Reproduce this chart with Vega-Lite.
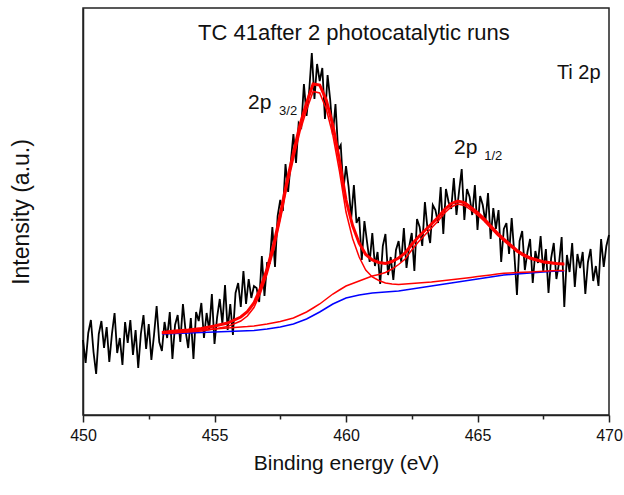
{
  "$schema": "https://vega.github.io/schema/vega-lite/v6.json",
  "width": 526,
  "height": 407,
  "autosize": {"type": "none"},
  "padding": {"left": 83, "top": 8, "right": 15, "bottom": 80},
  "background": "white",
  "config": {
    "view": {"stroke": "#222", "strokeWidth": 1.5},
    "font": "Liberation Sans",
    "axis": {"labelFont": "Liberation Sans", "titleFont": "Liberation Sans", "titleFontWeight": "normal", "domainColor": "#222", "domainWidth": 1.5, "tickColor": "#222", "tickWidth": 1.5, "grid": false}
  },
  "datasets": {
    "spectrum": [
      {"e":450.0,"i":75},{"e":450.1,"i":52},{"e":450.2,"i":82},{"e":450.3,"i":95},{"e":450.4,"i":63},{"e":450.5,"i":41},{"e":450.6,"i":81},{"e":450.7,"i":94},{"e":450.8,"i":67},{"e":450.9,"i":88},
      {"e":451.0,"i":53},{"e":451.1,"i":81},{"e":451.2,"i":102},{"e":451.3,"i":62},{"e":451.4,"i":77},{"e":451.5,"i":50},{"e":451.6,"i":93},{"e":451.7,"i":72},{"e":451.8,"i":95},{"e":451.9,"i":60},
      {"e":452.0,"i":85},{"e":452.1,"i":47},{"e":452.2,"i":81},{"e":452.3,"i":100},{"e":452.4,"i":66},{"e":452.5,"i":91},{"e":452.6,"i":55},{"e":452.7,"i":80},{"e":452.8,"i":109},{"e":452.9,"i":73},
      {"e":453.0,"i":64},{"e":453.1,"i":93},{"e":453.2,"i":77},{"e":453.3,"i":103},{"e":453.4,"i":56},{"e":453.5,"i":90},{"e":453.6,"i":100},{"e":453.7,"i":73},{"e":453.8,"i":111},{"e":453.9,"i":84},
      {"e":454.0,"i":67},{"e":454.1,"i":97},{"e":454.2,"i":56},{"e":454.3,"i":103},{"e":454.4,"i":94},{"e":454.5,"i":112},{"e":454.6,"i":77},{"e":454.7,"i":102},{"e":454.8,"i":85},{"e":454.9,"i":121},
      {"e":455.0,"i":71},{"e":455.1,"i":98},{"e":455.2,"i":116},{"e":455.3,"i":91},{"e":455.4,"i":130},{"e":455.5,"i":85},{"e":455.6,"i":111},{"e":455.7,"i":80},{"e":455.8,"i":122},{"e":455.9,"i":132},
      {"e":456.0,"i":108},{"e":456.1,"i":144},{"e":456.2,"i":111},{"e":456.3,"i":136},{"e":456.4,"i":117},{"e":456.5,"i":129},{"e":456.6,"i":127},{"e":456.7,"i":113},{"e":456.8,"i":159},{"e":456.9,"i":119},
      {"e":457.0,"i":152},{"e":457.1,"i":152},{"e":457.2,"i":188},{"e":457.3,"i":148},{"e":457.4,"i":199},{"e":457.5,"i":215},{"e":457.6,"i":204},{"e":457.7,"i":251},{"e":457.8,"i":223},{"e":457.9,"i":253},
      {"e":458.0,"i":281},{"e":458.1,"i":252},{"e":458.2,"i":292},{"e":458.3,"i":288},{"e":458.4,"i":331},{"e":458.5,"i":299},{"e":458.6,"i":324},{"e":458.7,"i":362},{"e":458.8,"i":316},{"e":458.9,"i":351},
      {"e":459.0,"i":334},{"e":459.1,"i":347},{"e":459.2,"i":296},{"e":459.3,"i":340},{"e":459.4,"i":315},{"e":459.5,"i":280},{"e":459.6,"i":311},{"e":459.7,"i":265},{"e":459.8,"i":270},{"e":459.9,"i":225},
      {"e":460.0,"i":249},{"e":460.1,"i":228},{"e":460.2,"i":197},{"e":460.3,"i":230},{"e":460.4,"i":192},{"e":460.5,"i":198},{"e":460.6,"i":155},{"e":460.7,"i":194},{"e":460.8,"i":173},{"e":460.9,"i":153},
      {"e":461.0,"i":182},{"e":461.1,"i":149},{"e":461.2,"i":163},{"e":461.3,"i":131},{"e":461.4,"i":169},{"e":461.5,"i":181},{"e":461.6,"i":140},{"e":461.7,"i":158},{"e":461.8,"i":135},{"e":461.9,"i":165},
      {"e":462.0,"i":174},{"e":462.1,"i":153},{"e":462.2,"i":187},{"e":462.3,"i":147},{"e":462.4,"i":168},{"e":462.5,"i":182},{"e":462.6,"i":144},{"e":462.7,"i":196},{"e":462.8,"i":188},{"e":462.9,"i":169},
      {"e":463.0,"i":213},{"e":463.1,"i":186},{"e":463.2,"i":172},{"e":463.3,"i":210},{"e":463.4,"i":205},{"e":463.5,"i":192},{"e":463.6,"i":228},{"e":463.7,"i":181},{"e":463.8,"i":226},{"e":463.9,"i":213},
      {"e":464.0,"i":206},{"e":464.1,"i":237},{"e":464.2,"i":200},{"e":464.3,"i":224},{"e":464.4,"i":246},{"e":464.5,"i":195},{"e":464.6,"i":226},{"e":464.7,"i":218},{"e":464.8,"i":200},{"e":464.9,"i":230},
      {"e":465.0,"i":185},{"e":465.1,"i":219},{"e":465.2,"i":210},{"e":465.3,"i":193},{"e":465.4,"i":222},{"e":465.5,"i":176},{"e":465.6,"i":207},{"e":465.7,"i":186},{"e":465.8,"i":205},{"e":465.9,"i":153},
      {"e":466.0,"i":186},{"e":466.1,"i":192},{"e":466.2,"i":161},{"e":466.3,"i":197},{"e":466.4,"i":161},{"e":466.5,"i":120},{"e":466.6,"i":174},{"e":466.7,"i":184},{"e":466.8,"i":145},{"e":466.9,"i":163},
      {"e":467.0,"i":176},{"e":467.1,"i":132},{"e":467.2,"i":164},{"e":467.3,"i":152},{"e":467.4,"i":179},{"e":467.5,"i":143},{"e":467.6,"i":166},{"e":467.7,"i":122},{"e":467.8,"i":157},{"e":467.9,"i":172},
      {"e":468.0,"i":136},{"e":468.1,"i":152},{"e":468.2,"i":178},{"e":468.3,"i":108},{"e":468.4,"i":160},{"e":468.5,"i":143},{"e":468.6,"i":172},{"e":468.7,"i":128},{"e":468.8,"i":161},{"e":468.9,"i":147},
      {"e":469.0,"i":163},{"e":469.1,"i":121},{"e":469.2,"i":153},{"e":469.3,"i":166},{"e":469.4,"i":134},{"e":469.5,"i":149},{"e":469.6,"i":129},{"e":469.7,"i":176},{"e":469.8,"i":148},{"e":469.9,"i":169},
      {"e":470.0,"i":180}
    ],
    "fits": [
      {"e":453.0,"bg":81,"p1":81.5,"p2":82,"env":82.5},
      {"e":453.5,"bg":81.5,"p1":82,"p2":83,"env":84},
      {"e":454.0,"bg":82,"p1":83,"p2":84,"env":85},
      {"e":454.5,"bg":82.5,"p1":84,"p2":85,"env":86.5},
      {"e":455.0,"bg":83,"p1":86,"p2":86,"env":89},
      {"e":455.5,"bg":83.5,"p1":88.5,"p2":87,"env":92},
      {"e":456.0,"bg":84,"p1":94,"p2":88,"env":98},
      {"e":456.25,"bg":84.2,"p1":99,"p2":88.4,"env":103.4},
      {"e":456.5,"bg":84.5,"p1":107.5,"p2":89,"env":112},
      {"e":456.75,"bg":85.2,"p1":122,"p2":90,"env":127},
      {"e":457.0,"bg":86,"p1":141,"p2":91,"env":146},
      {"e":457.25,"bg":87,"p1":165,"p2":92.3,"env":170.3},
      {"e":457.5,"bg":88,"p1":195,"p2":93.5,"env":200.5},
      {"e":457.75,"bg":89.5,"p1":227.5,"p2":95.3,"env":233.3},
      {"e":458.0,"bg":91,"p1":256,"p2":97,"env":262},
      {"e":458.25,"bg":93.5,"p1":283.5,"p2":100,"env":290},
      {"e":458.5,"bg":96,"p1":305,"p2":103,"env":312},
      {"e":458.75,"bg":99.5,"p1":323.5,"p2":107,"env":331},
      {"e":459.0,"bg":103,"p1":322,"p2":111,"env":330},
      {"e":459.25,"bg":107,"p1":306,"p2":116,"env":315},
      {"e":459.5,"bg":111,"p1":280,"p2":121,"env":290},
      {"e":459.75,"bg":114,"p1":244,"p2":125,"env":255},
      {"e":460.0,"bg":117,"p1":203,"p2":129,"env":215},
      {"e":460.25,"bg":118.5,"p1":176.5,"p2":131.5,"env":189.5},
      {"e":460.5,"bg":120,"p1":158,"p2":134,"env":172},
      {"e":460.75,"bg":121,"p1":145,"p2":136.5,"env":160.5},
      {"e":461.0,"bg":122,"p1":138,"p2":139,"env":155},
      {"e":461.25,"bg":122.5,"p1":134.5,"p2":140.5,"env":152.5},
      {"e":461.5,"bg":123,"p1":132,"p2":142.5,"env":151.5},
      {"e":461.75,"bg":123.5,"p1":131,"p2":146,"env":153.5},
      {"e":462.0,"bg":124,"p1":130.5,"p2":150.5,"env":157},
      {"e":462.25,"bg":125,"p1":131,"p2":156,"env":162},
      {"e":462.5,"bg":126,"p1":131.5,"p2":165,"env":170.5},
      {"e":462.75,"bg":127,"p1":132,"p2":173,"env":178},
      {"e":463.0,"bg":128,"p1":132.5,"p2":180,"env":184.5},
      {"e":463.25,"bg":129,"p1":133,"p2":187,"env":191},
      {"e":463.5,"bg":130,"p1":133.8,"p2":194,"env":197.8},
      {"e":463.75,"bg":131,"p1":134.5,"p2":202,"env":205.5},
      {"e":464.0,"bg":132,"p1":135.3,"p2":208,"env":211.3},
      {"e":464.25,"bg":133,"p1":136,"p2":211,"env":214},
      {"e":464.5,"bg":134,"p1":136.8,"p2":209.5,"env":212.3},
      {"e":464.75,"bg":135,"p1":137.6,"p2":205,"env":207.6},
      {"e":465.0,"bg":136,"p1":138.4,"p2":200,"env":202.4},
      {"e":465.25,"bg":137,"p1":139.2,"p2":194,"env":196.2},
      {"e":465.5,"bg":138,"p1":140,"p2":187,"env":189},
      {"e":465.75,"bg":139,"p1":140.9,"p2":180,"env":181.9},
      {"e":466.0,"bg":140,"p1":141.8,"p2":174,"env":175.8},
      {"e":466.25,"bg":140.5,"p1":142.1,"p2":168.5,"env":170.1},
      {"e":466.5,"bg":141,"p1":142.5,"p2":163,"env":164.5},
      {"e":466.75,"bg":141.5,"p1":142.8,"p2":159,"env":160.3},
      {"e":467.0,"bg":142,"p1":143.1,"p2":156,"env":157.1},
      {"e":467.5,"bg":143,"p1":143.8,"p2":152.5,"env":153.3},
      {"e":468.0,"bg":144,"p1":144.5,"p2":151,"env":151.5},
      {"e":468.3,"bg":144,"p1":144.4,"p2":150.5,"env":150.9}
    ],
    "mainTitle": [
      {"e":460.3,"i":382,"t":"TC 41after 2 photocatalytic runs"}
    ],
    "titleText": [
      {"e":468.85,"i":342,"t":"Ti 2p"}
    ],
    "bigText": [
      {"e":456.72,"i":312,"t":"2p"},
      {"e":464.55,"i":267,"t":"2p"}
    ],
    "smallText": [
      {"e":457.8,"i":304,"t":"3/2"},
      {"e":465.6,"i":259,"t":"1/2"}
    ]
  },
  "layer": [
    {
      "data": {"name": "spectrum"},
      "mark": {"type": "line", "color": "black", "strokeWidth": 1.8},
      "encoding": {
        "x": {"field": "e", "type": "quantitative", "scale": {"domain": [450, 470], "nice": false},
          "axis": {"values": [450, 452.5, 455, 457.5, 460, 462.5, 465, 467.5, 470], "labelExpr": "datum.value % 5 === 0 ? datum.label : ''", "tickSize": {"condition": {"test": "datum.value % 5 === 0", "value": 7}, "value": 4}, "labelFlush": false, "labelOverlap": false, "labelFontSize": 16, "labelPadding": 5, "labelColor": "#111", "title": "Binding energy (eV)", "titleFontSize": 21, "titlePadding": 9, "titleColor": "#111"}},
        "y": {"field": "i", "type": "quantitative", "scale": {"domain": [0, 407], "nice": false, "zero": false},
          "axis": {"labels": false, "ticks": false, "title": "Intensity (a.u.)", "titleFontSize": 23, "titlePadding": 50, "titleColor": "#111"}}
      }
    },
    {
      "data": {"name": "fits"},
      "mark": {"type": "line", "color": "#0000ff", "strokeWidth": 1.5},
      "encoding": {"x": {"field": "e", "type": "quantitative"}, "y": {"field": "bg", "type": "quantitative"}}
    },
    {
      "data": {"name": "fits"},
      "mark": {"type": "line", "color": "#ff0000", "strokeWidth": 1.5},
      "encoding": {"x": {"field": "e", "type": "quantitative"}, "y": {"field": "p2", "type": "quantitative"}}
    },
    {
      "data": {"name": "fits"},
      "mark": {"type": "line", "color": "#ff0000", "strokeWidth": 1.5},
      "encoding": {"x": {"field": "e", "type": "quantitative"}, "y": {"field": "p1", "type": "quantitative"}}
    },
    {
      "data": {"name": "fits"},
      "mark": {"type": "line", "color": "#ff0000", "strokeWidth": 3},
      "encoding": {"x": {"field": "e", "type": "quantitative"}, "y": {"field": "env", "type": "quantitative"}}
    },
    {
      "data": {"name": "mainTitle"},
      "mark": {"type": "text", "fontSize": 22, "color": "#111", "align": "center", "baseline": "middle"},
      "encoding": {"x": {"field": "e", "type": "quantitative"}, "y": {"field": "i", "type": "quantitative"}, "text": {"field": "t"}}
    },
    {
      "data": {"name": "titleText"},
      "mark": {"type": "text", "fontSize": 20, "color": "#111", "align": "center", "baseline": "middle"},
      "encoding": {"x": {"field": "e", "type": "quantitative"}, "y": {"field": "i", "type": "quantitative"}, "text": {"field": "t"}}
    },
    {
      "data": {"name": "bigText"},
      "mark": {"type": "text", "fontSize": 21, "color": "#111", "align": "center", "baseline": "middle"},
      "encoding": {"x": {"field": "e", "type": "quantitative"}, "y": {"field": "i", "type": "quantitative"}, "text": {"field": "t"}}
    },
    {
      "data": {"name": "smallText"},
      "mark": {"type": "text", "fontSize": 13, "color": "#111", "align": "center", "baseline": "middle"},
      "encoding": {"x": {"field": "e", "type": "quantitative"}, "y": {"field": "i", "type": "quantitative"}, "text": {"field": "t"}}
    }
  ]
}
